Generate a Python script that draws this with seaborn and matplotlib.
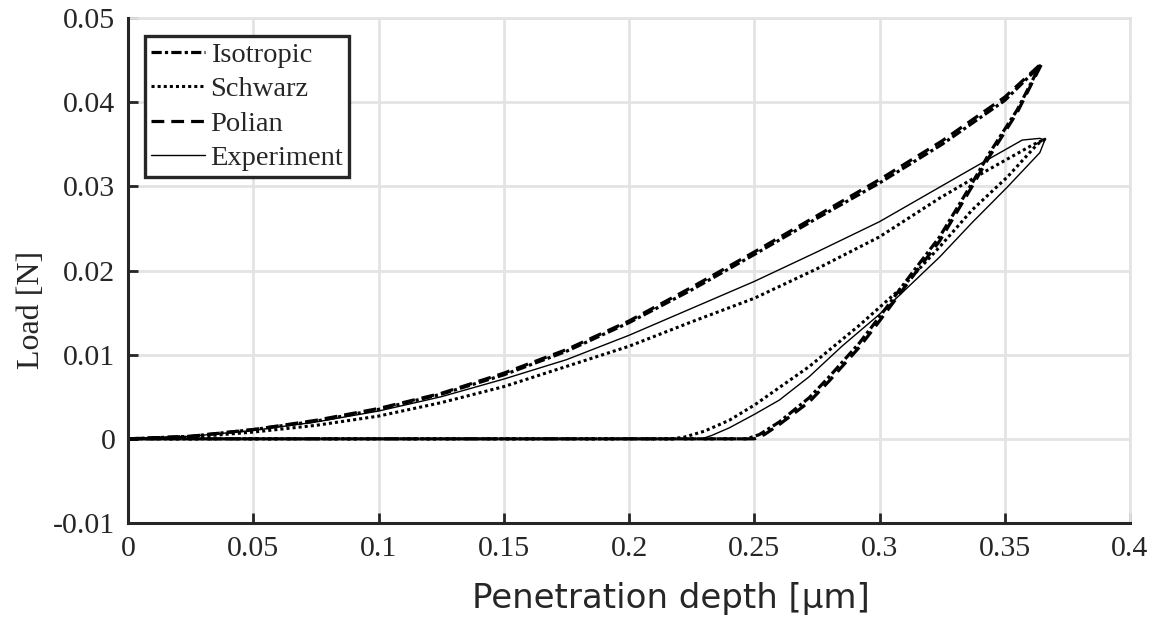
import matplotlib
matplotlib.use("Agg")
import matplotlib.pyplot as plt
import seaborn as sns
import pandas as pd

# ---------------- data ----------------
iso_depth = [0, 0.025, 0.05, 0.075, 0.1, 0.125, 0.15, 0.175, 0.2, 0.225, 0.25, 0.275, 0.3, 0.325, 0.35, 0.364,
             0.355, 0.344, 0.337, 0.324, 0.313, 0.30, 0.292, 0.28, 0.272, 0.26, 0.252, 0.247, 0.0]
iso_load = [0, 0.0003, 0.0011, 0.0021, 0.0035, 0.0053, 0.0076, 0.0104, 0.0138, 0.0177, 0.0219, 0.0262, 0.0304, 0.0350, 0.0402, 0.0443,
            0.0391, 0.0340, 0.0304, 0.0240, 0.0197, 0.0145, 0.0114, 0.0074, 0.0049, 0.0020, 0.0005, 0.0, 0.0]

schwarz_depth = [0, 0.025, 0.05, 0.075, 0.1, 0.125, 0.15, 0.175, 0.2, 0.225, 0.25, 0.275, 0.3, 0.324, 0.343, 0.361, 0.366,
                 0.363, 0.351, 0.337, 0.324, 0.309, 0.292, 0.272, 0.25, 0.24, 0.23, 0.222, 0.217, 0.0]
schwarz_load = [0, 0.0002, 0.0008, 0.0016, 0.0027, 0.0043, 0.0062, 0.0086, 0.0110, 0.0139, 0.0167, 0.0202, 0.0240, 0.0286, 0.0319, 0.0349, 0.0356,
                0.0350, 0.0311, 0.0272, 0.0228, 0.0180, 0.0135, 0.0086, 0.0040, 0.0022, 0.0009, 0.0002, 0.0, 0.0]

polian_depth = [0, 0.025, 0.05, 0.075, 0.1, 0.125, 0.15, 0.175, 0.2, 0.225, 0.25, 0.275, 0.3, 0.325, 0.35, 0.365,
                0.355, 0.344, 0.337, 0.324, 0.313, 0.30, 0.292, 0.28, 0.272, 0.26, 0.254, 0.25, 0.0]
polian_load = [0, 0.0003, 0.0011, 0.0022, 0.0036, 0.0054, 0.0078, 0.0106, 0.0140, 0.0180, 0.0222, 0.0265, 0.0308, 0.0354, 0.0406, 0.0447,
               0.0388, 0.0336, 0.0300, 0.0235, 0.0192, 0.0140, 0.0109, 0.0069, 0.0044, 0.0017, 0.0005, 0.0, 0.0]

exp_depth = [0, 0.025, 0.05, 0.075, 0.1, 0.125, 0.15, 0.175, 0.2, 0.225, 0.25, 0.275, 0.3, 0.324, 0.341, 0.357, 0.364, 0.366,
             0.364, 0.351, 0.337, 0.324, 0.30, 0.285, 0.272, 0.26, 0.25, 0.24, 0.233, 0.229, 0.0]
exp_load = [0, 0.0003, 0.0010, 0.0020, 0.0033, 0.0050, 0.0071, 0.0094, 0.0123, 0.0155, 0.0187, 0.0222, 0.0258, 0.0299, 0.0328, 0.0355, 0.0357, 0.0355,
            0.0340, 0.0299, 0.0257, 0.0216, 0.0148, 0.0110, 0.0074, 0.0046, 0.0029, 0.0013, 0.0004, 0.0, 0.0]

series_names = ["Isotropic", "Schwarz", "Polian", "Experiment"]
x_ticks = [0, 0.05, 0.1, 0.15, 0.2, 0.25, 0.3, 0.35, 0.4]
x_ticklabels = ["0", "0.05", "0.1", "0.15", "0.2", "0.25", "0.3", "0.35", "0.4"]
y_ticks = [-0.01, 0, 0.01, 0.02, 0.03, 0.04, 0.05]
y_ticklabels = ["-0.01", "0", "0.01", "0.02", "0.03", "0.04", "0.05"]

# ---------------- styling ----------------
sns.set_theme(style="white")
plt.rcParams["font.family"] = ["Liberation Serif", "DejaVu Serif"]

dark = "#262626"
gridc = "#e3e3e3"

fig = plt.figure(figsize=(11.58, 6.17), dpi=100)
ax = fig.add_axes([128 / 1158, 1 - 523 / 617, 1002 / 1158, 505 / 617])

curves = [
    (iso_depth, iso_load, dict(lw=2.3, dashes=(3.2, 1.0, 1.0, 1.0))),
    (schwarz_depth, schwarz_load, dict(lw=2.2, dashes=(1.0, 1.0))),
    (polian_depth, polian_load, dict(lw=2.3, dashes=(4.0, 2.2))),
    (exp_depth, exp_load, dict(lw=1.0, dashes=())),
]

for (d, l, st), name in zip(curves, series_names):
    df = pd.DataFrame({"depth": d, "load": l})
    sns.lineplot(data=df, x="depth", y="load", sort=False, estimator=None,
                 color="black", label=name, ax=ax)
    line = ax.lines[-1]
    line.set_linewidth(st["lw"])
    if st["dashes"]:
        line.set_dashes(st["dashes"])
    else:
        line.set_linestyle("-")

ax.set_xlim(0, 0.4)
ax.set_ylim(-0.01, 0.05)
ax.set_xticks(x_ticks)
ax.set_xticklabels(x_ticklabels)
ax.set_yticks(y_ticks)
ax.set_yticklabels(y_ticklabels)

ax.grid(True, color=gridc, lw=2.0)
ax.set_axisbelow(True)
for s in ["top", "right"]:
    ax.spines[s].set_color(gridc)
    ax.spines[s].set_linewidth(2.0)
for s in ["left", "bottom"]:
    ax.spines[s].set_color(dark)
    ax.spines[s].set_linewidth(2.2)
    ax.spines[s].set_zorder(5)

ax.tick_params(axis="both", which="major", direction="in", length=7, width=2.0,
               color=dark, labelcolor=dark, labelsize=21.5,
               bottom=True, left=True, top=False, right=False)
ax.tick_params(axis="x", pad=9)
ax.tick_params(axis="y", pad=9)

ax.set_xlabel("Penetration depth [μm]", fontfamily=["DejaVu Sans"], fontsize=24.5, color=dark)
ax.set_ylabel("Load [N]", fontsize=23, color=dark)
ax.xaxis.set_label_coords(0.542, -0.116)
ax.yaxis.set_label_coords(-0.082, 0.422)

leg = ax.legend(loc="upper left", bbox_to_anchor=(0.017, 0.9644), borderaxespad=0,
                fontsize=20.5, frameon=True, fancybox=False, framealpha=1,
                edgecolor=dark, labelspacing=0.3, handlelength=1.9,
                handletextpad=0.2, borderpad=0.2, labelcolor=dark)
leg.get_frame().set_linewidth(2.4)

fig.savefig("out.png", dpi=100)
